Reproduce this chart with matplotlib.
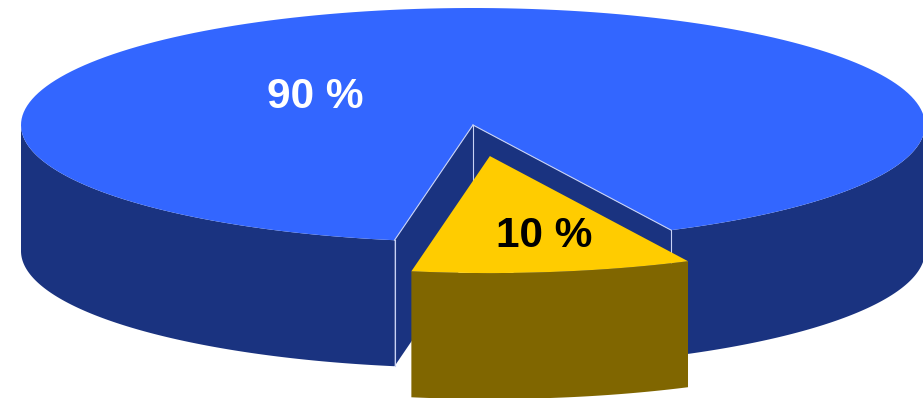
import matplotlib
matplotlib.use('Agg')

import numpy as np
import matplotlib.pyplot as plt
from matplotlib.patches import Polygon

## DATA ##
labels = ['90 %', '10 %']
values = [90, 10]
top_colors = ['#3366FF', '#FFCC00']
side_colors = ['#1A3380', '#806600']
text_colors = ['white', 'black']

## LAYOUT (pixel space) ##
W, H = 923, 398
cx, cy = 473, 125      # centre of the top ellipse
rx, ry = 452, 117      # ellipse radii
depth = 126            # thickness of the pie
start = -64            # angle where the first slice starts (deg, ccw)
explode = [0.0, 0.268]
label_pos = [(-0.35, 0.24), (0.12, -0.68)]  # relative to slice centre, ellipse units
edge_col = '#c8d2f5'


def pt(t, ox=0, oy=0, dz=0):
    t = np.radians(t)
    return (cx + ox + rx * np.cos(t), cy + oy - ry * np.sin(t) + dz)


def arc(a, b, ox=0, oy=0, dz=0, n=200):
    ts = np.linspace(a, b, n)
    return [pt(t, ox, oy, dz) for t in ts]


def visible_ranges(a, b):
    # parts of [a, b] where the outer side faces the viewer (sin < 0)
    out = []
    for k in range(-1, 2):
        lo, hi = 180 + 360 * k, 360 + 360 * k
        s, e = max(a, lo), min(b, hi)
        if e > s:
            out.append((s, e))
    return out


def main():
    fig = plt.figure(figsize=(W / 100, H / 100), dpi=100)
    ax = fig.add_axes([0, 0, 1, 1])
    ax.set_xlim(0, W)
    ax.set_ylim(H, 0)
    ax.axis('off')

    total = float(sum(values))
    a = start
    for i, v in enumerate(values):
        span = v / total * 360.0
        b = a + span
        mid = np.radians((a + b) / 2)
        ox = explode[i] * rx * np.cos(mid)
        oy = -explode[i] * ry * np.sin(mid)
        c_top = (cx + ox, cy + oy)
        c_bot = (cx + ox, cy + oy + depth)

        # radial faces (visible ones only)
        for ang, sign in ((a, -1), (b, 1)):
            normal = np.radians(ang + sign * 90)
            if np.sin(normal) < 0:
                p_top = pt(ang, ox, oy)
                p_bot = pt(ang, ox, oy, depth)
                ax.add_patch(Polygon([c_top, p_top, p_bot, c_bot], closed=True,
                                     facecolor=side_colors[i], edgecolor='none', zorder=1 + i * 10))

        # outer curved side
        for s, e in visible_ranges(a, b):
            poly = arc(s, e, ox, oy) + arc(s, e, ox, oy, depth)[::-1]
            ax.add_patch(Polygon(poly, closed=True, facecolor=side_colors[i],
                                 edgecolor='none', zorder=2 + i * 10))

        # top face
        ax.add_patch(Polygon([c_top] + arc(a, b, ox, oy), closed=True,
                             facecolor=top_colors[i], edgecolor='none', zorder=3 + i * 10))

        # thin light edges on the cut of the big slice
        if explode[i] == 0:
            for ang in (a, b):
                p_top = pt(ang, ox, oy)
                p_bot = pt(ang, ox, oy, depth)
                ax.plot([c_top[0], p_top[0]], [c_top[1], p_top[1]], color=edge_col, lw=0.8, zorder=4)
                ax.plot([p_top[0], p_bot[0]], [p_top[1], p_bot[1]], color=edge_col, lw=0.8, zorder=4)
            ax.plot([c_top[0], c_bot[0]], [c_top[1], c_bot[1]], color=edge_col, lw=0.8, zorder=4)

        lx = c_top[0] + label_pos[i][0] * rx
        ly = c_top[1] - label_pos[i][1] * ry
        ax.text(lx, ly, labels[i], color=text_colors[i], fontsize=30.5, fontweight='bold',
                family=['Liberation Sans', 'DejaVu Sans'], ha='center', va='center', zorder=30)
        a = b

    fig.savefig('out.png', dpi=100)
    plt.close(fig)


if __name__ == "__main__":
    main()
